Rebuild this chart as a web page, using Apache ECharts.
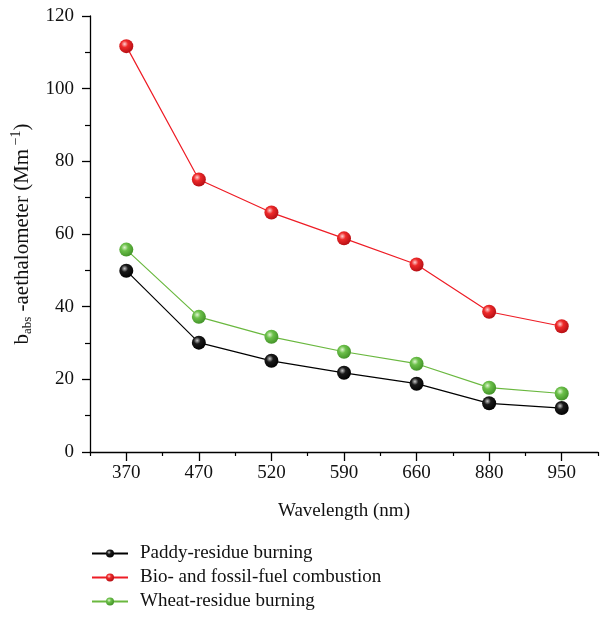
<!DOCTYPE html>
<html>
<head>
<meta charset="utf-8">
<script src="https://cdn.jsdelivr.net/npm/echarts@6/dist/echarts.min.js"></script>
<style>html,body{margin:0;padding:0;background:#fff}#c{width:615px;height:618px}</style>
</head>
<body>
<div id="c"></div>
<script>
var categories = ['370', '470', '520', '590', '660', '880', '950'];
var paddy = [49.9, 30.1, 25.1, 21.8, 18.8, 13.4, 12.1];
var bioFossil = [111.7, 75.0, 65.9, 58.8, 51.6, 38.6, 34.6];
var wheat = [55.7, 37.2, 31.7, 27.6, 24.3, 17.7, 16.1];
var seriesNames = ['Paddy-residue burning', 'Bio- and fossil-fuel combustion', 'Wheat-residue burning'];

var FONT = 'Liberation Serif';
function ball(hi, base, dark) {
  return {type: 'radial', x: 0.38, y: 0.35, r: 0.7,
    colorStops: [{offset: 0, color: hi}, {offset: 0.35, color: base}, {offset: 1, color: dark}]};
}
function mk(name, data, line, hi, base, dark) {
  return {
    name: name, type: 'line', data: data,
    symbol: 'circle', symbolSize: 14,
    lineStyle: {color: line, width: 1.2},
    itemStyle: {color: ball(hi, base, dark), borderWidth: 0},
    emphasis: {disabled: true}
  };
}
var chart = echarts.init(document.getElementById('c'));
chart.setOption({
  animation: false,
  backgroundColor: '#fff',
  textStyle: {fontFamily: FONT},
  grid: {left: 90, right: 17, top: 16, bottom: 166},
  legend: {
    orient: 'vertical', left: 86, top: 539, height: 120, itemGap: 5,
    itemWidth: 36, itemHeight: 10,
    textStyle: {fontFamily: FONT, fontSize: 19, color: '#111', padding: [0, 0, 0, 7]},
    data: seriesNames
  },
  xAxis: [{
    type: 'category', data: categories, boundaryGap: true,
    axisLine: {lineStyle: {color: '#000', width: 1.3}},
    axisTick: {show: true, alignWithLabel: true, length: 9, interval: 0, lineStyle: {color: '#000', width: 1.3}},
    axisLabel: {fontFamily: FONT, fontSize: 19, color: '#111', margin: 12, interval: 0},
    name: 'Wavelength (nm)', nameLocation: 'middle', nameGap: 50,
    nameTextStyle: {fontFamily: FONT, fontSize: 19, color: '#111'},
    splitLine: {show: false}
  }, {
    type: 'category', data: categories, boundaryGap: true, position: 'bottom',
    axisLine: {show: false},
    axisTick: {show: true, length: 4, interval: 0, lineStyle: {color: '#000', width: 1.2}},
    axisLabel: {show: false}, splitLine: {show: false}
  }],
  yAxis: {
    type: 'value', min: 0, max: 120, interval: 20,
    axisLine: {show: true, lineStyle: {color: '#000', width: 1.3}},
    axisTick: {show: true, length: 8, lineStyle: {color: '#000', width: 1.3}},
    minorTick: {show: true, splitNumber: 2, length: 5, lineStyle: {color: '#000', width: 1.2}},
    axisLabel: {fontFamily: FONT, fontSize: 19, color: '#111', margin: 16},
    splitLine: {show: false},
    name: '{n|b}{sub|abs}{n| -aethalometer (Mm}{sup| −1}{n|)}',
    nameLocation: 'middle', nameGap: 46, nameRotate: 90,
    nameTextStyle: {
      fontFamily: FONT, fontSize: 21, color: '#111',
      rich: {
        n: {fontFamily: FONT, fontSize: 21, color: '#111', lineHeight: 28},
        sub: {fontFamily: FONT, fontSize: 13, color: '#111', padding: [11, 0, 0, 0], lineHeight: 28},
        sup: {fontFamily: FONT, fontSize: 14, color: '#111', padding: [0, 0, 11, 0], lineHeight: 28}
      }
    }
  },
  series: [
    mk(seriesNames[0], paddy, '#000', '#c8c8c8', '#1a1a1a', '#000'),
    mk(seriesNames[1], bioFossil, '#ee1c25', '#ffd0d0', '#ee2a2a', '#b00c12'),
    mk(seriesNames[2], wheat, '#6ab83f', '#e0f5d0', '#6cc04a', '#3f8f25')
  ]
});
</script>
</body>
</html>
